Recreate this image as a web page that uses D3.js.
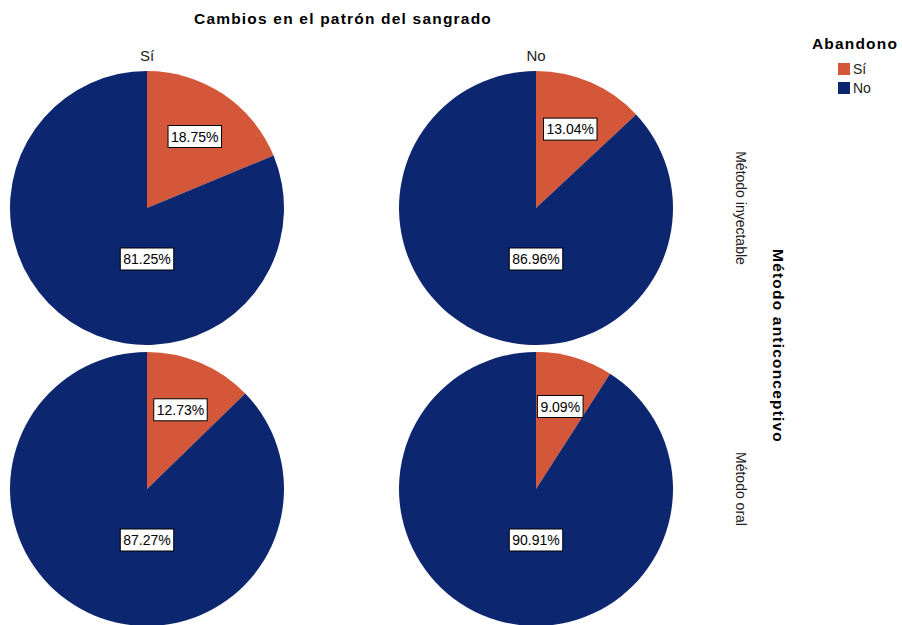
<!DOCTYPE html>
<html>
<head>
<meta charset="utf-8">
<script src="https://cdn.jsdelivr.net/npm/d3@7"></script>
<style>
  body { margin: 0; background: #fff; }
  svg { display: block; font-family: "Liberation Sans", Arial, sans-serif; }
</style>
</head>
<body>
<svg id="chart" width="902" height="625"></svg>
<script>
// Panel grid: columns = "Cambios en el patrón del sangrado", rows = "Método anticonceptivo"
const columns = ["Sí", "No"];
const rows = ["Método inyectable", "Método oral"];
const categories = ["Sí", "No"];           // Abandono
// Percent of each Abandono category, per panel [row][column]
const inyectableSi = [18.75, 81.25];
const inyectableNo = [13.04, 86.96];
const oralSi = [12.73, 87.27];
const oralNo = [9.09, 90.91];
const panelValues = [[inyectableSi, inyectableNo], [oralSi, oralNo]];

const colors = ["#d4573a", "#0c2670"];

const svg = d3.select("#chart");

const colX = d3.scalePoint().domain(columns).range([147, 536]);
const rowY = d3.scalePoint().domain(rows).range([208, 489]);
const color = d3.scaleOrdinal().domain(categories).range(colors);
const radius = 137;

const pie = d3.pie().sort(null).value(d => d.value);
const arc = d3.arc().innerRadius(0).outerRadius(radius);
const labelArc = d3.arc().innerRadius(86).outerRadius(86);

// Title
svg.append("text")
  .attr("x", 343).attr("y", 24)
  .attr("text-anchor", "middle")
  .attr("font-size", 15.5).attr("font-weight", "bold")
  .attr("letter-spacing", 1.2)
  .text("Cambios en el patrón del sangrado");

// Column headers
columns.forEach(c => {
  svg.append("text")
    .attr("x", colX(c)).attr("y", 61)
    .attr("text-anchor", "middle")
    .attr("font-size", 15).attr("fill", "#222")
    .text(c);
});

// Row headers (rotated)
rows.forEach(r => {
  svg.append("text")
    .attr("transform", `translate(736,${rowY(r)}) rotate(90)`)
    .attr("text-anchor", "middle")
    .attr("font-size", 14).attr("fill", "#222")
    .text(r);
});

svg.append("text")
  .attr("transform", `translate(773,346) rotate(90)`)
  .attr("text-anchor", "middle")
  .attr("font-size", 15.5).attr("font-weight", "bold")
  .attr("letter-spacing", 1.2)
  .text("Método anticonceptivo");

// Pies
rows.forEach((r, ri) => {
  columns.forEach((c, ci) => {
    const vals = panelValues[ri][ci].map((v, i) => ({ cat: categories[i], value: v }));
    const arcs = pie(vals);
    const g = svg.append("g").attr("transform", `translate(${colX(c)},${rowY(r)})`);
    g.selectAll("path").data(arcs).join("path")
      .attr("d", arc)
      .attr("fill", d => color(d.data.cat));

    arcs.forEach(a => {
      const txt = d3.format(".2f")(a.data.value) + "%";
      const [lx, ly] = a.data.cat === "No" ? [0, 51] : labelArc.centroid(a);
      const lg = g.append("g").attr("transform", `translate(${lx},${ly})`);
      const t = lg.append("text")
        .attr("text-anchor", "middle").attr("dy", "0.36em")
        .attr("font-size", 14).attr("fill", "#000")
        .text(txt);
      const bb = t.node().getBBox();
      lg.insert("rect", "text")
        .attr("x", bb.x - 3).attr("y", -11)
        .attr("width", bb.width + 6).attr("height", 22)
        .attr("fill", "#fff").attr("stroke", "#000").attr("stroke-width", 1);
    });
  });
});

// Legend
const legend = svg.append("g");
legend.append("text")
  .attr("x", 855).attr("y", 49)
  .attr("text-anchor", "middle")
  .attr("font-size", 15.5).attr("font-weight", "bold")
  .attr("letter-spacing", 1.2)
  .text("Abandono");
categories.forEach((cat, i) => {
  legend.append("rect")
    .attr("x", 838).attr("y", 63 + i * 19)
    .attr("width", 12).attr("height", 12)
    .attr("fill", color(cat));
  legend.append("text")
    .attr("x", 853).attr("y", 74 + i * 19)
    .attr("font-size", 14).attr("fill", "#222")
    .text(cat);
});
</script>
</body>
</html>
